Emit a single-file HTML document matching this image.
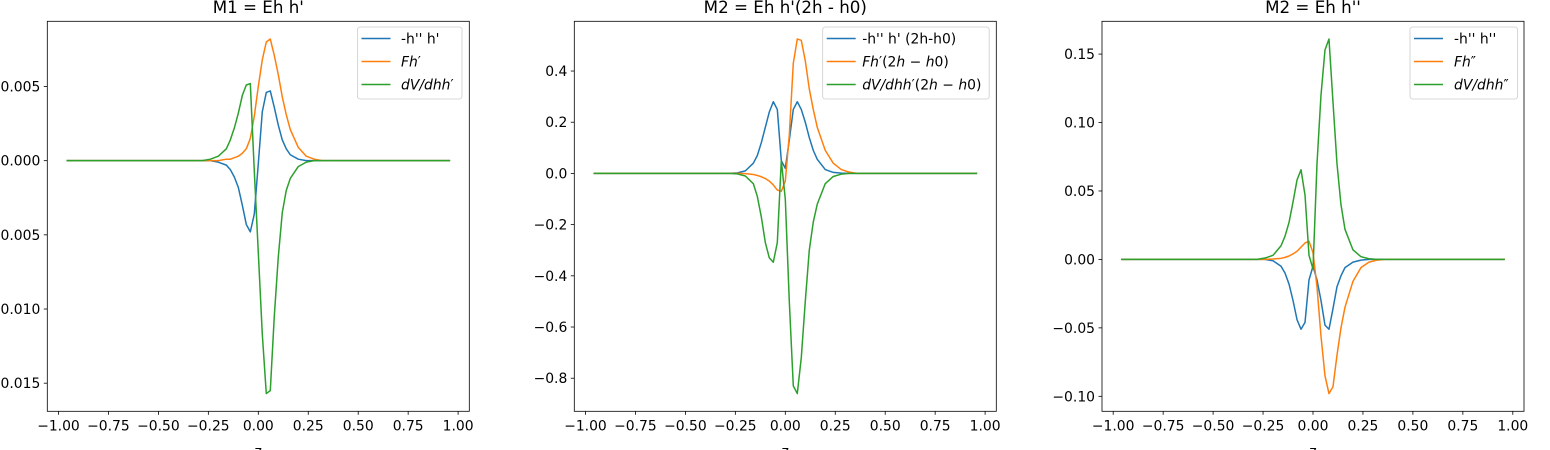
<!DOCTYPE html>
<html><head><meta charset="utf-8">
<style>
html,body{margin:0;padding:0;background:#fff;overflow:hidden}
svg{display:block;font-family:"DejaVu Sans","Liberation Sans",sans-serif}
</style></head>
<body>
<svg id="fig" width="1550" height="450" viewBox="0 0 1550 450" xmlns="http://www.w3.org/2000/svg"></svg>
<script>
const Z=[-0.96,-0.36,-0.32,-0.28,-0.24,-0.20,-0.16,-0.14,-0.12,-0.10,-0.08,-0.06,-0.04,-0.02,0,0.02,0.04,0.06,0.08,0.10,0.12,0.14,0.16,0.20,0.24,0.28,0.32,0.36,0.96];
const P1_BLUE=[0,0,0,0,0,-0.0001,-0.0003,-0.0006,-0.0011,-0.0018,-0.0030,-0.0043,-0.0048,-0.0036,-0.0002,0.0033,0.0046,0.0047,0.0036,0.0024,0.0014,0.0008,0.0004,0.0001,0,0,0,0,0];
const P1_ORANGE=[0,0,0,0,0,0,0.0001,0.0001,0.0002,0.0003,0.0005,0.0008,0.0015,0.0030,0.0050,0.0068,0.0080,0.0082,0.0071,0.0058,0.0043,0.0031,0.0021,0.0009,0.0003,0.0001,0,0,0];
const P1_GREEN=[0,0,0,0,0.0001,0.0003,0.0008,0.0014,0.0022,0.0032,0.0044,0.0051,0.0052,-0.0007,-0.0062,-0.0117,-0.0157,-0.0155,-0.0105,-0.0065,-0.0035,-0.0020,-0.0012,-0.0004,-0.0001,0,0,0,0];
const P2_BLUE=[0,0,0,0,0.002,0.01,0.04,0.07,0.12,0.18,0.24,0.28,0.25,0.05,0.02,0.13,0.25,0.28,0.25,0.20,0.14,0.09,0.055,0.015,0.004,0.001,0,0,0];
const P2_ORANGE=[0,0,0,0,0,-0.001,-0.004,-0.008,-0.013,-0.02,-0.03,-0.045,-0.065,-0.07,-0.03,0.15,0.43,0.525,0.52,0.44,0.33,0.25,0.18,0.09,0.04,0.015,0.005,0,0];
const P2_GREEN=[0,0,0,0,-0.002,-0.01,-0.04,-0.09,-0.17,-0.27,-0.33,-0.347,-0.27,0.05,-0.1,-0.5,-0.83,-0.86,-0.72,-0.5,-0.3,-0.19,-0.12,-0.04,-0.012,-0.003,0,0,0];
const P3_BLUE=[0,0,0,0,0,-0.001,-0.005,-0.01,-0.018,-0.03,-0.044,-0.051,-0.046,-0.015,-0.005,-0.015,-0.03,-0.048,-0.051,-0.036,-0.02,-0.012,-0.006,-0.002,-0.0005,0,0,0,0];
const P3_ORANGE=[0,0,0,0,0,0.0003,0.0008,0.0015,0.0025,0.004,0.006,0.009,0.012,0.0133,0.005,-0.02,-0.056,-0.085,-0.098,-0.093,-0.07,-0.05,-0.035,-0.016,-0.006,-0.002,-0.0005,0,0];
const P3_GREEN=[0,0,0,0,0.001,0.003,0.01,0.017,0.027,0.042,0.058,0.0655,0.047,0.003,-0.007,0.07,0.12,0.153,0.161,0.115,0.07,0.04,0.022,0.007,0.002,0.0005,0,0,0];
const XTICKS=[-1,-0.75,-0.5,-0.25,0,0.25,0.5,0.75,1];
const P1_YTICKS=[0.005,0,-0.005,-0.010,-0.015];
const P2_YTICKS=[0.4,0.2,0,-0.2,-0.4,-0.6,-0.8];
const P3_YTICKS=[0.15,0.10,0.05,0,-0.05,-0.10];
const TITLES=["M1 = Eh h'","M2 = Eh h'(2h - h0)","M2 = Eh h''"];
const COLORS=["#1f77b4","#ff7f0e","#2ca02c"];

const NS="http://www.w3.org/2000/svg";
const svg=document.getElementById('fig');
function mk(tag,attrs,parent){const e=document.createElementNS(NS,tag);for(const k in attrs)e.setAttribute(k,attrs[k]);(parent||svg).appendChild(e);return e;}
function fmt(v,d){let s=Math.abs(v)<1e-12?(0).toFixed(d):v.toFixed(d);return s.replace('-','\u2212');}

const panels=[
 {left:47.3,series:[P1_BLUE,P1_ORANGE,P1_GREEN],yt:P1_YTICKS,yd:3,leg:{x:357.5,w:104.5,tx:401},labels:[["-h'' h'"],[["Fh",1],["\u2032",0]],[["dV/dhh",1],["\u2032",0]]]},
 {left:574.3,series:[P2_BLUE,P2_ORANGE,P2_GREEN],yt:P2_YTICKS,yd:1,leg:{x:822.7,w:166.5,tx:862},labels:[["-h'' h' (2h-h0)"],[["Fh",1],["\u2032(2",0],["h",1],[" \u2212 ",0],["h",1],["0)",0]],[["dV/dhh",1],["\u2032(2",0],["h",1],[" \u2212 ",0],["h",1],["0)",0]]]},
 {left:1102,series:[P3_BLUE,P3_ORANGE,P3_GREEN],yt:P3_YTICKS,yd:2,leg:{x:1410,w:107.5,tx:1454},labels:[["-h'' h''"],[["Fh",1],["\u2033",0]],[["dV/dhh",1],["\u2033",0]]]}
];
const TOP=21.3,BOT=411.3,W=422;

panels.forEach((p,pi)=>{
  const g=mk('g',{});
  
  
  const L=p.left,R=L+W;
  const zmin=Math.min(...Z),zmax=Math.max(...Z),zr=zmax-zmin;
  const x0=zmin-0.05*zr,x1=zmax+0.05*zr;
  let all=[].concat(...p.series);
  const ymin=Math.min(...all),ymax=Math.max(...all),yr=ymax-ymin;
  const y0=ymin-0.05*yr,y1=ymax+0.05*yr;
  const sx=v=>L+(v-x0)/(x1-x0)*W;
  const sy=v=>BOT-(v-y0)/(y1-y0)*(BOT-TOP);
  // series
  p.series.forEach((s,si)=>{
    const d=Z.map((z,i)=>(i?'L':'M')+sx(z).toFixed(2)+' '+sy(s[i]).toFixed(2)).join(' ');
    const path=mk('path',{d:d,fill:'none',stroke:COLORS[si],'stroke-width':1.5,'stroke-linejoin':'round'},g);
    
    
  });
  // frame
  const fr=mk('rect',{x:L,y:TOP,width:W,height:BOT-TOP,fill:'none',stroke:'#000','stroke-width':0.8},g);
  
  
  // x ticks
  XTICKS.forEach(t=>{
    const x=sx(t);
    mk('line',{x1:x,x2:x,y1:BOT,y2:BOT+3.5,stroke:'#000','stroke-width':0.8},g);
    const tx=mk('text',{x:x,y:BOT+19,'font-size':13.9,'text-anchor':'middle',fill:'#000'},g);
    tx.textContent=fmt(t,2);
    
    
  });
  // y ticks
  p.yt.forEach(t=>{
    const y=sy(t);
    mk('line',{x1:L-3.5,x2:L,y1:y,y2:y,stroke:'#000','stroke-width':0.8},g);
    const tx=mk('text',{x:L-7,y:y+5,'font-size':13.9,'text-anchor':'end',fill:'#000'},g);
    tx.textContent=fmt(t,p.yd);
    
    
  });
  // title
  const ti=mk('text',{x:L+W/2,y:13,'font-size':16.7,'text-anchor':'middle',fill:'#000'},g);
  ti.textContent=TITLES[pi];
  
  
  // x label
  const xl=mk('text',{x:L+W/2,y:456,'font-size':13.9,'text-anchor':'middle',fill:'#000'},g);
  xl.textContent='z';
  
  
  // legend
  const lg=mk('g',{},g);
  
  
  mk('rect',{x:p.leg.x,y:27,width:p.leg.w,height:72,rx:2.5,fill:'#fff','fill-opacity':0.8,stroke:'#cccccc','stroke-width':0.8},lg);
  p.labels.forEach((lab,li)=>{
    const yy=38.5+li*23;
    const e=mk('g',{},lg);
    
    
    mk('line',{x1:p.leg.x+4,x2:p.leg.x+33,y1:yy,y2:yy,stroke:COLORS[li],'stroke-width':1.5},e);
    const t=mk('text',{x:p.leg.x+(pi==1?39.5:(pi==0?43.5:44)),y:yy+5,'font-size':13.9,fill:'#000'},e);
    if(typeof lab[0]==='string'){t.textContent=lab[0];}
    else lab.forEach(part=>{const ts=mk('tspan',{'font-style':part[1]?'italic':'normal'},t);ts.textContent=part[0];});
  });
});
</script>
</body></html>
